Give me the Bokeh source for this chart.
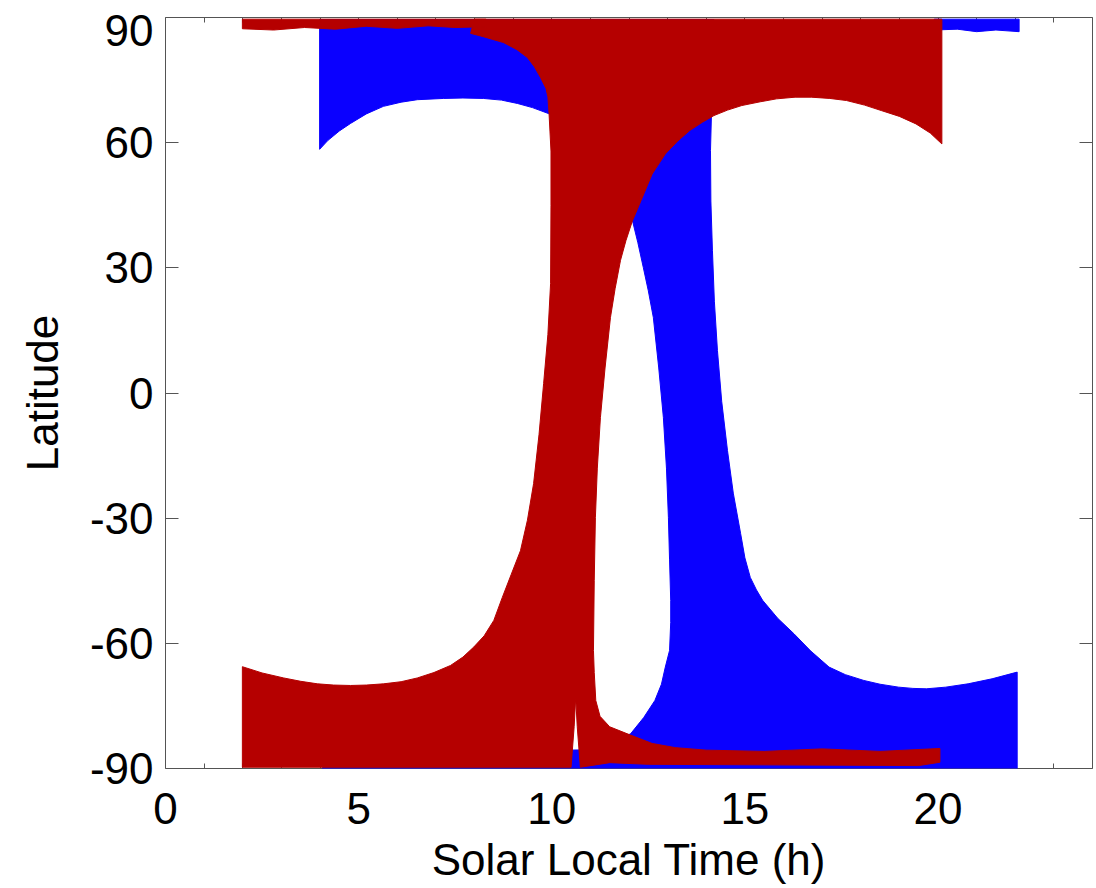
from bokeh.plotting import figure
from bokeh.models import Range1d, FixedTicker, LinearAxis
from bokeh.embed import file_html
from bokeh.resources import INLINE

# ---------------- data ----------------
x_ticks = [0, 5, 10, 15, 20]
x_tick_labels = ["0", "5", "10", "15", "20"]
x_minor_ticks = list(range(0, 25))
y_ticks = [-90, -60, -30, 0, 30, 60, 90]
y_tick_labels = ["-90", "-60", "-30", "0", "30", "60", "90"]
# where the y labels sit (the top one is nudged inside the page, as in the reference)
y_label_pos = [-90, -60, -30, 0, 30, 60, 87]

# blue orbit coverage: outline (solar local time [h], latitude [deg])
blue_slt = [3.99, 14.2,
            14.11, 14.12, 14.16, 14.21, 14.29, 14.4, 14.55, 14.7, 14.89, 15.0, 15.14,
            15.30, 15.46, 15.85, 16.27, 16.7, 17.18, 17.6, 18.08, 18.5, 18.98, 19.35,
            19.70, 20.2, 20.78, 21.4, 22.05,
            22.05, 4.07, 4.07, 8.0, 11.0,
            12.04, 12.38, 12.67, 12.84, 12.94, 13.05, 13.08, 13.08, 13.05, 13.02, 12.97,
            12.89, 12.77, 12.63, 12.5, 12.37, 12.23, 12.09,
            11.7, 11.0, 10.4, 9.91,
            9.5, 9.11, 8.7, 8.23, 7.7, 7.2, 6.52, 6.1, 5.64, 5.2, 4.79, 4.5, 4.2, 3.99]
blue_lat = [89.5, 89.5,
            58.1, 46.0, 34.2, 22.0, 10.2, -2.0, -13.8, -24.0, -33.7, -39.5, -44.2,
            -47.2, -49.7, -54.0, -57.7, -61.8, -65.7, -67.5, -68.9, -69.8, -70.5, -70.8,
            -70.9, -70.5, -69.7, -68.5, -66.9,
            -90.5, -90.5, -86.5, -86.0, -85.5,
            -81.7, -77.8, -73.7, -69.8, -65.7, -61.7, -55.0, -49.7, -40.0, -29.8, -18.0,
            -5.9, 6.0, 18.1, 24.5, 30.1, 36.0, 41.3,
            50.0, 58.0, 64.0, 67.0,
            68.4, 69.4, 70.2, 70.6, 70.7, 70.6, 70.3, 69.7, 68.7, 66.9, 64.6, 62.8, 60.5, 58.4]
# blue polar strip near the north pole
blue_strip_slt = [19.9, 22.1, 22.1, 21.5, 21.0, 20.5, 19.9]
blue_strip_lat = [89.6, 89.6, 86.6, 87.0, 86.6, 87.2, 87.0]

# red orbit coverage: outline
red_slt = [8.0, 20.1,
           20.1, 19.8, 19.43, 19.0, 18.53, 18.1, 17.63, 17.2, 16.72, 16.3, 15.82, 15.4,
           14.92, 14.55, 14.20, 13.9, 13.57, 13.25, 12.94, 12.6, 12.31, 12.09, 11.92,
           11.78, 11.64, 11.52, 11.38, 11.26, 11.18, 11.13, 11.10, 11.08, 11.10, 11.14,
           11.25, 11.5, 12.04, 12.6, 13.2, 14.0, 15.5, 17.0, 18.5, 20.05,
           20.05, 19.5, 12.5, 11.5, 10.74, 10.66, 10.62, 10.58, 10.50, 1.99,
           1.99, 2.5, 3.06, 3.5, 3.93, 4.35, 4.79, 5.2, 5.65, 6.1, 6.52, 6.95, 7.38,
           7.7, 7.98, 8.25, 8.50, 8.72, 8.95, 9.19, 9.37, 9.53, 9.67, 9.79, 9.90,
           9.97, 9.98, 9.98, 9.93, 9.90, 9.85, 9.71, 9.55, 9.37, 9.1, 8.75, 8.23, 7.9]
red_lat = [89.6, 89.6,
           59.7, 62.3, 64.5, 66.3, 67.7, 69.0, 70.1, 70.6, 70.9, 70.9, 70.5, 69.8,
           68.9, 67.8, 66.5, 64.9, 62.9, 60.3, 57.3, 52.5, 46.1, 41.3, 36.5,
           31.8, 25.0, 18.1, 6.0, -5.9, -18.0, -29.8, -45.0, -61.7, -67.0, -73.7,
           -77.5, -80.0, -82.0, -84.0, -85.0, -85.6, -85.9, -85.3, -85.9, -85.2,
           -88.5, -89.3, -89.0, -88.6, -89.7, -80.0, -73.0, -80.0, -89.7, -89.7,
           -65.6, -67.1, -68.3, -69.1, -69.7, -70.0, -70.1, -70.0, -69.7, -69.2, -68.3, -67.0, -65.3,
           -63.3, -60.9, -58.2, -54.5, -49.0, -43.5, -37.8, -30.5, -21.7, -10.0, 2.3, 14.0,
           26.2, 45.0, 58.0, 67.0, 71.0, 73.0, 75.6, 78.2, 80.4, 82.3, 84.0, 85.4, 86.2]
# red polar strip near the north pole
red_strip_slt = [1.99, 8.3, 8.3, 7.5, 6.8, 6.0, 5.2, 4.4, 3.6, 2.8, 1.99]
red_strip_lat = [89.6, 89.6, 87.8, 87.6, 88.0, 87.4, 87.9, 87.2, 87.6, 87.0, 87.3]

BLUE = "#0a00ff"
RED = "#b50000"
FONT = "Liberation Sans"
FS = "44px"
AXIS_COLOR = "#555555"

p = figure(width=1096, height=888, x_range=Range1d(0, 24), y_range=Range1d(-90, 90),
           output_backend="svg", toolbar_location=None,
           x_axis_location=None, y_axis_location=None,
           min_border_left=165, min_border_right=4, min_border_top=17, min_border_bottom=120,
           background_fill_color="white", border_fill_color="white")
p.grid.visible = False
p.outline_line_color = AXIS_COLOR
p.outline_line_width = 1

# blue first, red drawn over it
p.patch(blue_slt, blue_lat, fill_color=BLUE, line_color=BLUE, line_width=1)
p.patch(blue_strip_slt, blue_strip_lat, fill_color=BLUE, line_color=BLUE, line_width=1)
p.patch(red_slt, red_lat, fill_color=RED, line_color=RED, line_width=1)
p.patch(red_strip_slt, red_strip_lat, fill_color=RED, line_color=RED, line_width=1)


def tick_axis(ticks, minor):
    """Axis that only draws inward ticks, underneath the data."""
    ax = LinearAxis(ticker=FixedTicker(ticks=ticks, minor_ticks=minor))
    ax.axis_line_color = AXIS_COLOR
    ax.major_tick_line_color = AXIS_COLOR
    ax.minor_tick_line_color = AXIS_COLOR
    ax.major_tick_in = 13
    ax.major_tick_out = 0
    ax.minor_tick_in = 5
    ax.minor_tick_out = 0
    ax.major_label_overrides = {t: "" for t in ticks}
    ax.major_label_text_font_size = "1px"
    ax.major_label_standoff = 0
    ax.level = "underlay"
    return ax


def label_axis(pos, labels, title):
    """Axis that only draws the tick labels and the axis title."""
    ax = LinearAxis(ticker=FixedTicker(ticks=pos, minor_ticks=[]))
    ax.axis_line_color = None
    ax.major_tick_line_color = None
    ax.minor_tick_line_color = None
    ax.major_tick_in = 0
    ax.major_tick_out = 0
    ax.major_label_overrides = {t: s for t, s in zip(pos, labels)}
    ax.major_label_text_font = FONT
    ax.major_label_text_font_size = FS
    ax.major_label_text_color = "black"
    ax.axis_label = title
    ax.axis_label_text_font = FONT
    ax.axis_label_text_font_size = FS
    ax.axis_label_text_font_style = "normal"
    ax.axis_label_text_color = "black"
    return ax


p.add_layout(tick_axis(x_ticks, x_minor_ticks), "below")
xl = label_axis(x_ticks, x_tick_labels, "Solar Local Time (h)")
xl.major_label_standoff = 24
xl.axis_label_standoff = 8
p.add_layout(xl, "below")

p.add_layout(tick_axis(y_ticks, []), "left")
yl = label_axis(y_label_pos, y_tick_labels, "Latitude")
yl.major_label_standoff = 12
yl.axis_label_standoff = 20
p.add_layout(yl, "left")

p.add_layout(tick_axis(x_ticks, x_minor_ticks), "above")
p.add_layout(tick_axis(y_ticks, []), "right")

open("out.html", "w").write(file_html(p, INLINE))
